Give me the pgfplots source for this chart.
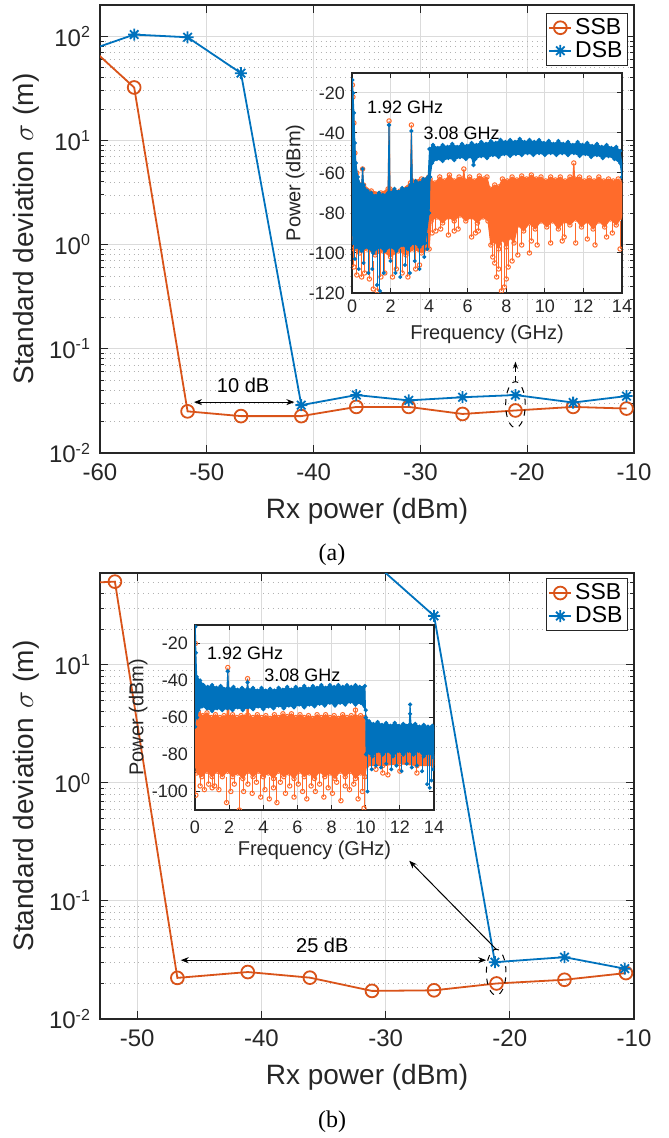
\documentclass[border=0pt]{standalone}
\usepackage{fontspec}
\setmainfont{Liberation Sans}
\newfontfamily\seriffont{Liberation Serif}
\usepackage{pgfplots}
\pgfplotsset{compat=1.18}
\usetikzlibrary{arrows.meta}
\definecolor{ssb}{HTML}{D95319}
\definecolor{dsb}{HTML}{0072BD}
\definecolor{ssbi}{HTML}{FF6B2B}
\definecolor{axc}{HTML}{262626}
\pgfdeclareplotmark{mstar}{%
  \pgfpathmoveto{\pgfqpoint{-\pgfplotmarksize}{0pt}}\pgfpathlineto{\pgfqpoint{\pgfplotmarksize}{0pt}}%
  \pgfpathmoveto{\pgfqpoint{0pt}{-\pgfplotmarksize}}\pgfpathlineto{\pgfqpoint{0pt}{\pgfplotmarksize}}%
  \pgfpathmoveto{\pgfqpoint{-.707\pgfplotmarksize}{-.707\pgfplotmarksize}}\pgfpathlineto{\pgfqpoint{.707\pgfplotmarksize}{.707\pgfplotmarksize}}%
  \pgfpathmoveto{\pgfqpoint{-.707\pgfplotmarksize}{.707\pgfplotmarksize}}\pgfpathlineto{\pgfqpoint{.707\pgfplotmarksize}{-.707\pgfplotmarksize}}%
  \pgfusepathqstroke}
\pgfplotsset{
  /pgf/number format/assume math mode=true,
  myBase/.style={scale only axis, anchor=south west,
    axis background/.style={fill=white},
    axis line style={draw=axc, line width=0.6pt},
    tick align=inside, tick style={draw=axc, line width=0.5pt},
    major tick length=4pt, minor tick length=2pt,
    tick label style={text=axc}, label style={text=axc},
    major grid style={draw=black!14, line width=0.5pt},
    minor grid style={draw=black!30, dotted, line width=0.45pt},
    clip marker paths=true},
  myMain/.style={myBase, width=267pt,
    xmajorgrids, ymajorgrids, yminorgrids,
    xlabel={Rx power (dBm)},
    ylabel={Standard deviation\,\,$\sigma$\,\,(m)},
    label style={font=\fontsize{14}{16}\selectfont},
    tick label style={font=\fontsize{12}{14}\selectfont},
    xticklabel style={yshift=-2pt},
    yticklabel style={xshift=-1pt},
    ylabel style={at={(axis description cs:-0.1386,0.5)}, anchor=center},
    legend style={draw=axc, line width=0.6pt, font=\fontsize{11.5}{13}\selectfont,
      inner sep=1pt, row sep=-1pt, nodes={inner sep=1.5pt}, text=black},
    legend cell align=left,
    legend image code/.code={\draw[mark repeat=2,mark phase=2,##1] plot coordinates {(0pt,0pt) (5.5pt,0pt) (11pt,0pt)};}},
  myInset/.style={myBase, xmin=0, xmax=14, xtick={0,2,...,14},
    xmajorgrids, ymajorgrids, major tick length=2.5pt,
    xlabel={Frequency (GHz)}, ylabel={Power (dBm)},
    label style={font=\fontsize{10}{12}\selectfont},
    tick label style={font=\fontsize{9}{10}\selectfont}},
  ssbband/.style={draw=ssbi, fill=ssbi, line width=0.5pt, mark=o, mark size=1.1pt, mark options={line width=0.5pt}},
  dsbband/.style={draw=dsb, fill=dsb, line width=0.5pt, mark=*, mark size=0.8pt},
  ssbstem/.style={only marks, draw=ssbi, mark=o, mark size=1.1pt, mark options={line width=0.5pt},
    error bars/.cd, y dir=plus, y explicit, error mark=none, error bar style={draw=ssbi, line width=0.5pt}},
  dsbstem/.style={only marks, draw=dsb, fill=dsb, mark=*, mark size=0.8pt,
    error bars/.cd, y dir=plus, y explicit, error mark=none, error bar style={draw=dsb, line width=0.5pt}},
}
\begin{document}
\begin{tikzpicture}
\path[use as bounding box] (0pt,0pt) rectangle (334pt,569pt);
% ---------------- (a) ----------------
\begin{axis}[myMain, ymode=log, at={(50pt,342.5pt)}, height=224pt,
  xmin=-60, xmax=-10, ymin=0.01, ymax=200,
  xtick={-60,-50,-40,-30,-20,-10},
  ytick={0.01,0.1,1,10,100},
  yticklabels={10\textsuperscript{-2},10\textsuperscript{-1},10\textsuperscript{0},10\textsuperscript{1},10\textsuperscript{2}},
  minor ytick={0.02,0.03,0.04,0.05,0.06,0.07,0.08,0.09,0.2,0.3,0.4,0.5,0.6,0.7,0.8,0.9,2,3,4,5,6,7,8,9,20,30,40,50,60,70,80,90},
  xlabel style={at={(axis description cs:0.5,-0.1295)}, anchor=center},
  legend style={at={(rel axis cs:0.989,0.983)}, anchor=north east}]
\addplot[ssb, line width=0.9pt, mark=o, mark size=3.2pt] coordinates {
(-61.8,95) (-56.8,32.3) (-51.8,0.0251) (-46.8,0.0226) (-41.15,0.0226) (-36.0,0.0277)
(-31.1,0.0277) (-26.05,0.0237) (-21.1,0.0256) (-15.7,0.0277) (-10.7,0.0267)};
\addlegendentry{SSB}
\addplot[dsb, line width=0.9pt, mark=mstar, mark size=3pt] coordinates {
(-61.8,69) (-56.8,104) (-51.8,98) (-46.8,44.3) (-41.15,0.0288) (-36.0,0.036)
(-31.1,0.032) (-26.05,0.0343) (-21.1,0.036) (-15.7,0.0305) (-10.7,0.0352)};
\addlegendentry{DSB}
\draw[{Stealth[length=4pt,width=3pt]}-{Stealth[length=4pt,width=3pt]}, line width=0.5pt] (axis cs:-51.2,0.0308) -- (axis cs:-41.8,0.0308);
\node[font=\fontsize{10}{12}\selectfont] at (axis cs:-46.6,0.045) {10 dB};
\draw[dashed, line width=0.5pt] (axis cs:-21.1,0.0291) ellipse [x radius=4.9pt, y radius=11.5pt];
\draw[densely dashed, -{Stealth[length=3.5pt,width=2.5pt]}, line width=0.5pt] ([yshift=11.5pt]axis cs:-21.1,0.0291) -- ++(0pt,10pt);
\end{axis}
\begin{axis}[myInset, at={(176pt,422.5pt)}, width=135pt, height=110pt,
  ymin=-120, ymax=-10, ytick={-120,-100,...,-20},
  xlabel style={at={(axis description cs:0.5,-0.186)}, anchor=center},
  ylabel style={at={(axis description cs:-0.21,0.5)}, anchor=center}]
\addplot[ssbband] coordinates {
(0,-75) (0.02,-16) (0.05,-22) (0.1,-35) (0.15,-50) (0.25,-60) (0.4,-66) (0.5,-66) (0.55,-58) (0.6,-66) (1,-69) (1.5,-70) (1.87,-68) (1.92,-34) (1.97,-68) (2.5,-69) (3.03,-65) (3.08,-36) (3.13,-64) (3.6,-63) (3.98,-62)
(4.05,-63) (4.3,-65) (4.55,-62) (4.8,-64) (5.05,-61) (5.3,-64) (5.55,-62) (5.75,-63) (5.8,-58) (5.85,-64) (6.1,-62) (6.35,-64) (6.6,-61.5) (6.85,-63) (7.0,-62) (7.15,-68) (7.4,-66) (7.6,-67) (7.8,-63) (8.05,-64) (8.3,-62) (8.55,-63.5) (8.8,-61.5) (9.05,-63) (9.3,-61) (9.55,-63) (9.8,-62) (10.05,-64) (10.3,-62) (10.55,-63.5) (10.8,-62) (11.05,-64) (11.3,-62) (11.45,-63) (11.5,-55) (11.55,-63) (11.8,-62) (12.05,-64) (12.3,-62.5) (12.55,-64) (12.8,-62) (13.05,-64) (13.3,-63) (13.55,-64) (13.8,-63) (14,-65)
(14,-82) (13.7,-86) (13.4,-83) (13.1,-87) (12.8,-84) (12.5,-88) (12.2,-84) (11.9,-87) (11.6,-83) (11.3,-86) (11,-84) (10.7,-88) (10.4,-84) (10.1,-87) (9.8,-84) (9.5,-88) (9.2,-85) (8.9,-89) (8.6,-86) (8.4,-95) (8.2,-92) (8.0,-97) (7.8,-93) (7.6,-98) (7.4,-94) (7.2,-96) (7.05,-84) (6.8,-82) (6.5,-85) (6.2,-82) (5.9,-84) (5.6,-81) (5.3,-84) (5.0,-82) (4.7,-85) (4.4,-82) (4.1,-84) (4.0,-98) (3.6,-100) (3.2,-98) (2.8,-101) (2.4,-99) (2.0,-102) (1.6,-99) (1.2,-101) (0.8,-98) (0.4,-100) (0.1,-98) (0,-90)};
\addplot[ssbstem] coordinates {
(0.1,-107) +- (0,14) (0.25,-111) +- (0,14) (0.5,-112) +- (0,14) (0.65,-110) +- (0,14) (0.9,-113) +- (0,14) (1.1,-118) +- (0,14) (1.3,-119) +- (0,14) (1.5,-112) +- (0,14) (1.7,-110) +- (0,14) (2.1,-112) +- (0,14) (2.3,-108) +- (0,14) (2.6,-110) +- (0,14) (2.9,-112) +- (0,14) (3.3,-108) +- (0,14) (3.5,-106) +- (0,14)
(4.15,-90) +- (0,10) (4.35,-89) +- (0,10) (4.6,-88) +- (0,10) (5.0,-91) +- (0,10) (5.3,-89) +- (0,10) (5.5,-88) +- (0,10) (6.2,-92) +- (0,10) (6.4,-90) +- (0,10) (6.55,-89) +- (0,10)
(7.3,-102) +- (0,12) (7.4,-105) +- (0,14) (7.5,-112) +- (0,18) (7.6,-108) +- (0,14) (7.75,-119) +- (0,24) (7.9,-117) +- (0,22) (8.0,-113) +- (0,18) (8.1,-107) +- (0,14) (8.3,-104) +- (0,12) (8.6,-101) +- (0,14) (8.8,-96) +- (0,10) (9.2,-100) +- (0,14) (9.3,-94) +- (0,10) (9.6,-96) +- (0,10) (10.3,-95) +- (0,10) (10.9,-94) +- (0,10) (11.0,-92) +- (0,10) (11.6,-95) +- (0,10) (12.2,-93) +- (0,10) (12.6,-96) +- (0,10) (13.2,-92) +- (0,10) (13.5,-90) +- (0,10) (13.9,-98) +- (0,14)};
\addplot[dsbband] coordinates {
(0,-60) (0.02,-13.5) (0.05,-20) (0.1,-30) (0.15,-45) (0.2,-55) (0.3,-62) (0.45,-66) (0.5,-66) (0.55,-58) (0.6,-66) (0.8,-69) (1.0,-70) (1.2,-71.5) (1.4,-70) (1.6,-71) (1.87,-70) (1.92,-36) (1.97,-70) (2.2,-68) (2.4,-69.5) (2.6,-67.5) (2.8,-68) (3.03,-66) (3.08,-39) (3.13,-66) (3.3,-64) (3.5,-65) (3.7,-63) (3.95,-62)
(4.02,-48) (4.2,-46) (4.45,-47.5) (4.7,-46) (4.95,-47) (5.2,-45.5) (5.45,-47) (5.7,-45.5) (5.95,-46.5) (6.2,-45) (6.45,-46) (6.7,-44.5) (6.95,-45.5) (7.2,-44) (7.45,-45) (7.7,-43.5) (7.95,-44.5) (8.2,-43.5) (8.45,-44.5) (8.7,-43) (8.95,-44.5) (9.2,-43.5) (9.45,-44.5) (9.7,-43.5) (9.95,-45) (10.2,-44) (10.45,-45.5) (10.7,-44) (10.95,-45.5) (11.2,-44.5) (11.45,-46) (11.7,-44.5) (11.95,-46) (12.2,-45) (12.45,-46.5) (12.7,-45.5) (12.95,-47) (13.2,-46) (13.45,-47.5) (13.7,-47) (13.9,-49) (14,-56)
(14,-62) (13.9,-55) (13.6,-53) (13.3,-51.5) (13.0,-52.5) (12.7,-51) (12.4,-52) (12.1,-50.5) (11.8,-51.5) (11.5,-50) (11.2,-51) (10.9,-50) (10.6,-51) (10.3,-50) (10.0,-51) (9.7,-50) (9.4,-51) (9.1,-50) (8.8,-51) (8.5,-50.5) (8.2,-51.5) (7.9,-50.5) (7.6,-52) (7.3,-51) (7.0,-52.5) (6.7,-51.5) (6.4,-53) (6.3,-56) (6.2,-52) (5.9,-53) (5.6,-52) (5.3,-53.5) (5.0,-52.5) (4.7,-54) (4.4,-53) (4.15,-55) (4.05,-62) (4.0,-80) (3.8,-95) (3.5,-97) (3.2,-95) (2.9,-98) (2.6,-96) (2.3,-99) (2.0,-97) (1.7,-99) (1.4,-97) (1.1,-100) (0.8,-97) (0.5,-99) (0.2,-97) (0.05,-95) (0,-80)};
\addplot[dsbstem] coordinates {
(0.15,-103) +- (0,10) (0.35,-108) +- (0,12) (0.6,-105) +- (0,10) (0.85,-110) +- (0,14) (1.05,-108) +- (0,12) (1.3,-116) +- (0,18) (1.45,-119) +- (0,22) (1.65,-110) +- (0,14) (2.0,-104) +- (0,10) (2.25,-110) +- (0,14) (2.5,-112) +- (0,14) (2.75,-106) +- (0,10) (3.0,-110) +- (0,14) (3.25,-104) +- (0,10) (3.5,-108) +- (0,12) (3.75,-102) +- (0,10) (3.9,-98) +- (0,8)};
\node[anchor=west, font=\fontsize{9}{10}\selectfont] at (axis cs:0.42,-27) {1.92 GHz};
\node[anchor=west, font=\fontsize{9}{10}\selectfont] at (axis cs:3.35,-40) {3.08 GHz};
\end{axis}
\node[font=\seriffont\fontsize{12}{14}\selectfont] at (166pt,291.5pt) {(a)};
% ---------------- (b) ----------------
\begin{axis}[myMain, ymode=log, at={(50pt,59.5pt)}, height=223pt,
  xmin=-53, xmax=-10, ymin=0.01, ymax=60,
  xtick={-50,-40,-30,-20,-10},
  ytick={0.01,0.1,1,10},
  yticklabels={10\textsuperscript{-2},10\textsuperscript{-1},10\textsuperscript{0},10\textsuperscript{1}},
  minor ytick={0.02,0.03,0.04,0.05,0.06,0.07,0.08,0.09,0.2,0.3,0.4,0.5,0.6,0.7,0.8,0.9,2,3,4,5,6,7,8,9,20,30,40,50},
  xlabel style={at={(axis description cs:0.5,-0.13)}, anchor=center},
  legend style={at={(rel axis cs:0.989,0.989)}, anchor=north east}]
\addplot[ssb, line width=0.9pt, mark=o, mark size=3.2pt] coordinates {
(-56.8,48) (-51.8,50.7) (-46.77,0.0223) (-41.1,0.025) (-36.1,0.0224) (-31.1,0.0173)
(-26.1,0.0175) (-21.07,0.020) (-15.6,0.0215) (-10.65,0.0245)};
\addlegendentry{SSB}
\addplot[dsb, line width=0.9pt, mark=mstar, mark size=3pt] coordinates {
(-31.1,76) (-26.1,26) (-21.2,0.0303) (-15.6,0.0334) (-10.75,0.0267)};
\addlegendentry{DSB}
\draw[{Stealth[length=4pt,width=3pt]}-{Stealth[length=4pt,width=3pt]}, line width=0.5pt] (axis cs:-46.5,0.0315) -- (axis cs:-21.9,0.0315);
\node[font=\fontsize{10}{12}\selectfont] at (axis cs:-35.1,0.0419) {25 dB};
\draw[dashed, line width=0.5pt] (axis cs:-21.1,0.0249) ellipse [x radius=4.9pt, y radius=11.5pt];
\draw[-{Stealth[length=4pt,width=3pt]}, line width=0.5pt] ([yshift=11.5pt]axis cs:-21.1,0.0249) -- (axis cs:-28.1,0.219);
\end{axis}
\begin{axis}[myInset, at={(97.5pt,164pt)}, width=119.5pt, height=92.5pt,
  ymin=-110, ymax=-10, ytick={-100,-80,...,-20},
  xticklabel style={yshift=-2pt},
  xlabel style={at={(axis description cs:0.5,-0.216)}, anchor=center},
  ylabel style={at={(axis description cs:-0.238,0.5)}, anchor=center}]
\addplot[ssbband] coordinates {
(0,-70) (0.02,-20) (0.06,-40) (0.1,-55) (0.2,-57) (0.45,-59) (0.7,-57.5) (0.95,-60) (1.2,-58.5) (1.45,-60) (1.7,-59) (1.87,-60) (1.92,-33) (1.97,-60) (2.2,-58.5) (2.45,-60) (2.7,-59) (3.03,-59) (3.08,-39) (3.13,-59) (3.4,-60) (3.65,-58.5) (3.9,-60) (4.15,-59) (4.4,-60.5) (4.65,-58.5) (4.9,-60) (5.15,-58) (5.4,-59.5) (5.65,-58) (5.9,-60) (6.15,-58.5) (6.4,-60) (6.65,-59) (6.9,-60.5) (7.15,-58.5) (7.4,-60) (7.65,-58.5) (7.9,-60) (8.15,-59) (8.4,-60.5) (8.65,-58.5) (8.9,-60) (9.15,-59) (9.35,-60) (9.4,-56) (9.45,-60) (9.7,-59) (9.95,-60) (10,-76) (11,-78) (12,-79) (13,-79) (14,-80)
(14,-86) (13,-86) (12,-85) (11,-86) (10.05,-86) (9.95,-92) (9.7,-90) (9.4,-93) (9.1,-89) (8.8,-92) (8.5,-89) (8.2,-93) (7.9,-90) (7.6,-92) (7.3,-89) (7.0,-93) (6.7,-90) (6.4,-92) (6.1,-89) (5.8,-93) (5.5,-90) (5.2,-92) (4.9,-89) (4.6,-93) (4.3,-90) (4.0,-92) (3.7,-89) (3.4,-92) (3.1,-89) (2.8,-93) (2.5,-90) (2.2,-92) (1.9,-89) (1.6,-92) (1.3,-89) (1.0,-92) (0.7,-89) (0.4,-92) (0.1,-90) (0,-85)};
\addplot[ssbstem] coordinates {
(0.05,-102) +- (0,12) (0.3,-97) +- (0,8) (0.55,-99) +- (0,10) (0.8,-96) +- (0,8) (1.0,-98) +- (0,8) (1.15,-97) +- (0,8) (1.4,-99) +- (0,10) (1.85,-106) +- (0,14) (2.1,-100) +- (0,10) (2.3,-96) +- (0,8) (2.6,-110) +- (0,18) (2.85,-100) +- (0,10) (3.1,-96) +- (0,8) (3.35,-101) +- (0,10) (3.6,-95) +- (0,8) (3.85,-103) +- (0,12) (4.1,-99) +- (0,10) (4.35,-104) +- (0,12) (4.6,-98) +- (0,8) (4.8,-106) +- (0,14) (5.0,-95) +- (0,8) (5.3,-101) +- (0,10) (5.55,-97) +- (0,8) (5.8,-103) +- (0,12) (6.05,-96) +- (0,8) (6.3,-100) +- (0,10) (6.55,-104) +- (0,12) (6.8,-97) +- (0,8) (7.05,-100) +- (0,10) (7.3,-96) +- (0,8) (7.55,-103) +- (0,12) (7.8,-98) +- (0,8) (8.05,-101) +- (0,10) (8.3,-95) +- (0,8) (8.55,-105) +- (0,14) (8.8,-97) +- (0,8) (9.05,-99) +- (0,10) (9.3,-96) +- (0,8) (9.55,-104) +- (0,12) (9.8,-100) +- (0,10) (9.9,-109) +- (0,18)
(10.6,-88) +- (0,8) (11.0,-90) +- (0,8) (11.3,-91) +- (0,8) (12.0,-89) +- (0,8) (13.0,-90) +- (0,8)};
\addplot[dsbband] coordinates {
(0,-50) (0.02,-11) (0.05,-25) (0.1,-38) (0.3,-40) (0.5,-42.5) (0.75,-43.5) (1.0,-42.5) (1.25,-44) (1.5,-43) (1.87,-44.5) (1.92,-35) (1.97,-44.5) (2.25,-43.5) (2.5,-45) (2.75,-44) (3.03,-45) (3.08,-41) (3.13,-45) (3.4,-44) (3.65,-45.5) (3.9,-44) (4.15,-45.5) (4.4,-44.5) (4.65,-45.5) (4.9,-44) (5.15,-45) (5.4,-43.5) (5.65,-45) (5.9,-43.5) (6.15,-44.5) (6.4,-43) (6.65,-44.5) (6.9,-43) (7.15,-44) (7.4,-42.5) (7.65,-44) (7.9,-42.5) (8.15,-43.5) (8.4,-42.5) (8.65,-43.5) (8.9,-42.5) (9.15,-43.5) (9.4,-42.5) (9.65,-43.5) (9.95,-43)
(10.0,-60) (10.2,-62) (10.45,-63.5) (10.7,-62.5) (10.95,-64) (11.2,-63) (11.45,-64.5) (11.7,-63) (11.95,-64.5) (12.2,-63.5) (12.55,-64) (12.6,-53) (12.65,-64) (12.9,-63.5) (13.15,-65) (13.4,-64) (13.65,-65) (13.9,-64.5) (14,-66)
(14,-82) (13.7,-79) (13.4,-81) (13.1,-78) (12.8,-80) (12.5,-78) (12.2,-80) (11.9,-78) (11.6,-81) (11.3,-78) (11.0,-80) (10.7,-78) (10.4,-81) (10.1,-79) (10.02,-80) (10.0,-56) (9.7,-52) (9.4,-53) (9.1,-51.5) (8.8,-53) (8.5,-52) (8.2,-53.5) (7.9,-52) (7.6,-53.5) (7.3,-52.5) (7.0,-54) (6.7,-53) (6.4,-54.5) (6.1,-53) (5.8,-54.5) (5.5,-53.5) (5.2,-55) (4.9,-53.5) (4.6,-55) (4.3,-54) (4.0,-55.5) (3.7,-54) (3.4,-55.5) (3.1,-54.5) (2.8,-56) (2.5,-54.5) (2.2,-56) (1.9,-55) (1.6,-56) (1.3,-55) (1.0,-56.5) (0.7,-55) (0.4,-54) (0.2,-56) (0.12,-60) (0.05,-55) (0,-65)};
\addplot[dsbstem] coordinates {
(10.1,-100) +- (0,20) (10.35,-88) +- (0,8) (10.6,-86) +- (0,8) (10.9,-87) +- (0,8) (11.2,-85) +- (0,8) (11.5,-88) +- (0,8) (11.8,-86) +- (0,8) (12.1,-89) +- (0,8) (12.4,-85) +- (0,8) (12.6,-58) +- (0,2) (12.7,-87) +- (0,8) (13.0,-86) +- (0,8) (13.3,-89) +- (0,10) (13.6,-96) +- (0,16) (13.75,-98) +- (0,18) (13.85,-94) +- (0,14) (13.95,-88) +- (0,8)};
\node[anchor=west, font=\fontsize{9}{10}\selectfont] at (axis cs:0.29,-25.3) {1.92 GHz};
\node[anchor=west, font=\fontsize{9}{10}\selectfont] at (axis cs:3.65,-37) {3.08 GHz};
\end{axis}
\node[font=\seriffont\fontsize{12}{14}\selectfont] at (166pt,8pt) {(b)};
\end{tikzpicture}
\end{document}
